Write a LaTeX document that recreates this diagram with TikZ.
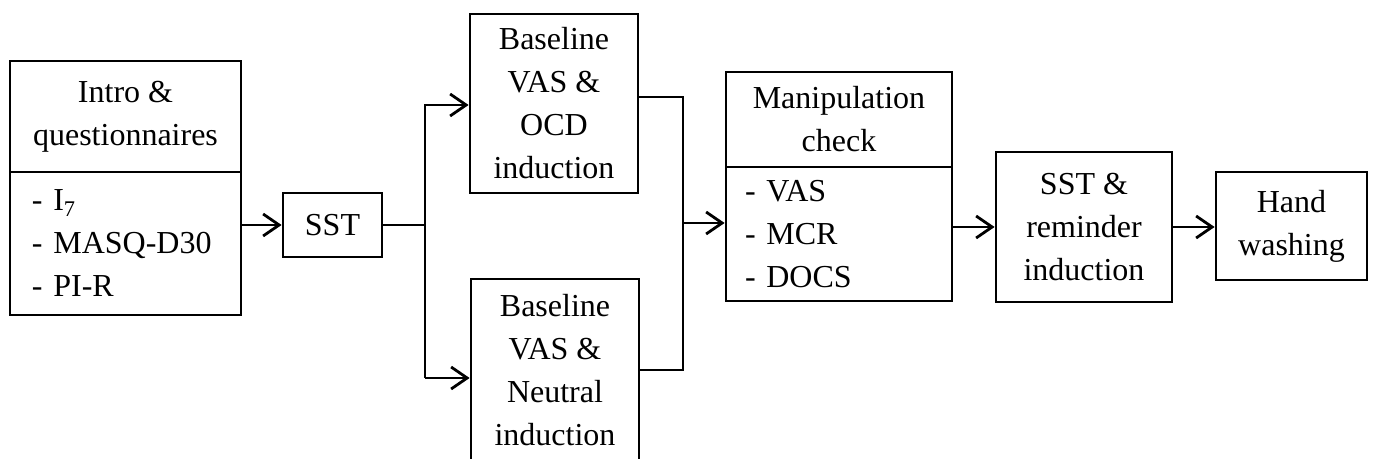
\documentclass[tikz,border=0pt]{standalone}
\usepackage{fontspec}
\setmainfont{Liberation Serif}
\usetikzlibrary{arrows.meta}
\begin{document}
\begin{tikzpicture}[x=0.5pt,y=-0.5pt,
  box/.style={draw,line width=1.4pt,inner sep=2pt,align=center,font=\fontsize{16pt}{21.5pt}\selectfont},
  listbox/.style={box,align=left,anchor=center},
  arr/.style={-{Straight Barb[length=8pt,width=11pt,line width=1.4pt]},line width=1.4pt}]
\useasboundingbox (0,0) rectangle (1375,459);
% boxes
\node[box,minimum width=115.5pt,minimum height=55.5pt] (intro) at (125.5,116.5) {Intro \&\\questionnaires};
\node[listbox,text width=93.5pt,inner xsep=11pt,minimum height=71.5pt] (introlist) at (125.5,243.5) {- I\textsubscript{7}\\- MASQ-D30\\- PI-R};
\node[box,minimum width=49.5pt,minimum height=32pt] (sst) at (332.5,225) {SST};
\node[box,minimum width=84pt,minimum height=89.5pt] (ocd) at (554,103.5) {Baseline\\VAS \&\\OCD\\induction};
\node[box,minimum width=84pt,minimum height=91.5pt] (neutral) at (555,370.5) {Baseline\\VAS \&\\Neutral\\induction};
\node[box,minimum width=113pt,minimum height=47.5pt] (manip) at (839,119.5) {Manipulation\\check};
\node[listbox,text width=94pt,inner xsep=9.5pt,minimum height=67pt] (maniplist) at (839,234) {- VAS\\- MCR\\- DOCS};
\node[box,minimum width=88pt,minimum height=75pt] (remind) at (1084,227) {SST \&\\reminder\\induction};
\node[box,minimum width=75.5pt,minimum height=54pt] (hand) at (1291.5,226) {Hand\\washing};
% split and merge points
\coordinate (ocdin) at (425,105);
\coordinate (neuin) at (425,378);
\coordinate (mtop) at (683,97);
\coordinate (mbot) at (683,370);
\coordinate (min) at (683,223);
% connectors
\draw[arr] (introlist.east |- sst) -- (sst);
\draw[line width=1.4pt] (sst) -- (sst -| ocdin);
\draw[arr] (neuin) -- (ocdin) -- (ocdin -| ocd.west);
\draw[arr] (neuin) -- (neuin -| neutral.west);
\draw[line width=1.4pt] (ocd.east |- mtop) -- (mtop) -- (mbot) -- (mbot -| neutral.east);
\draw[arr] (min) -- (min -| maniplist.west);
\draw[arr] (maniplist.east |- remind) -- (remind);
\draw[arr] (remind.east) -- (remind.east -| hand.west);
\end{tikzpicture}
\end{document}
